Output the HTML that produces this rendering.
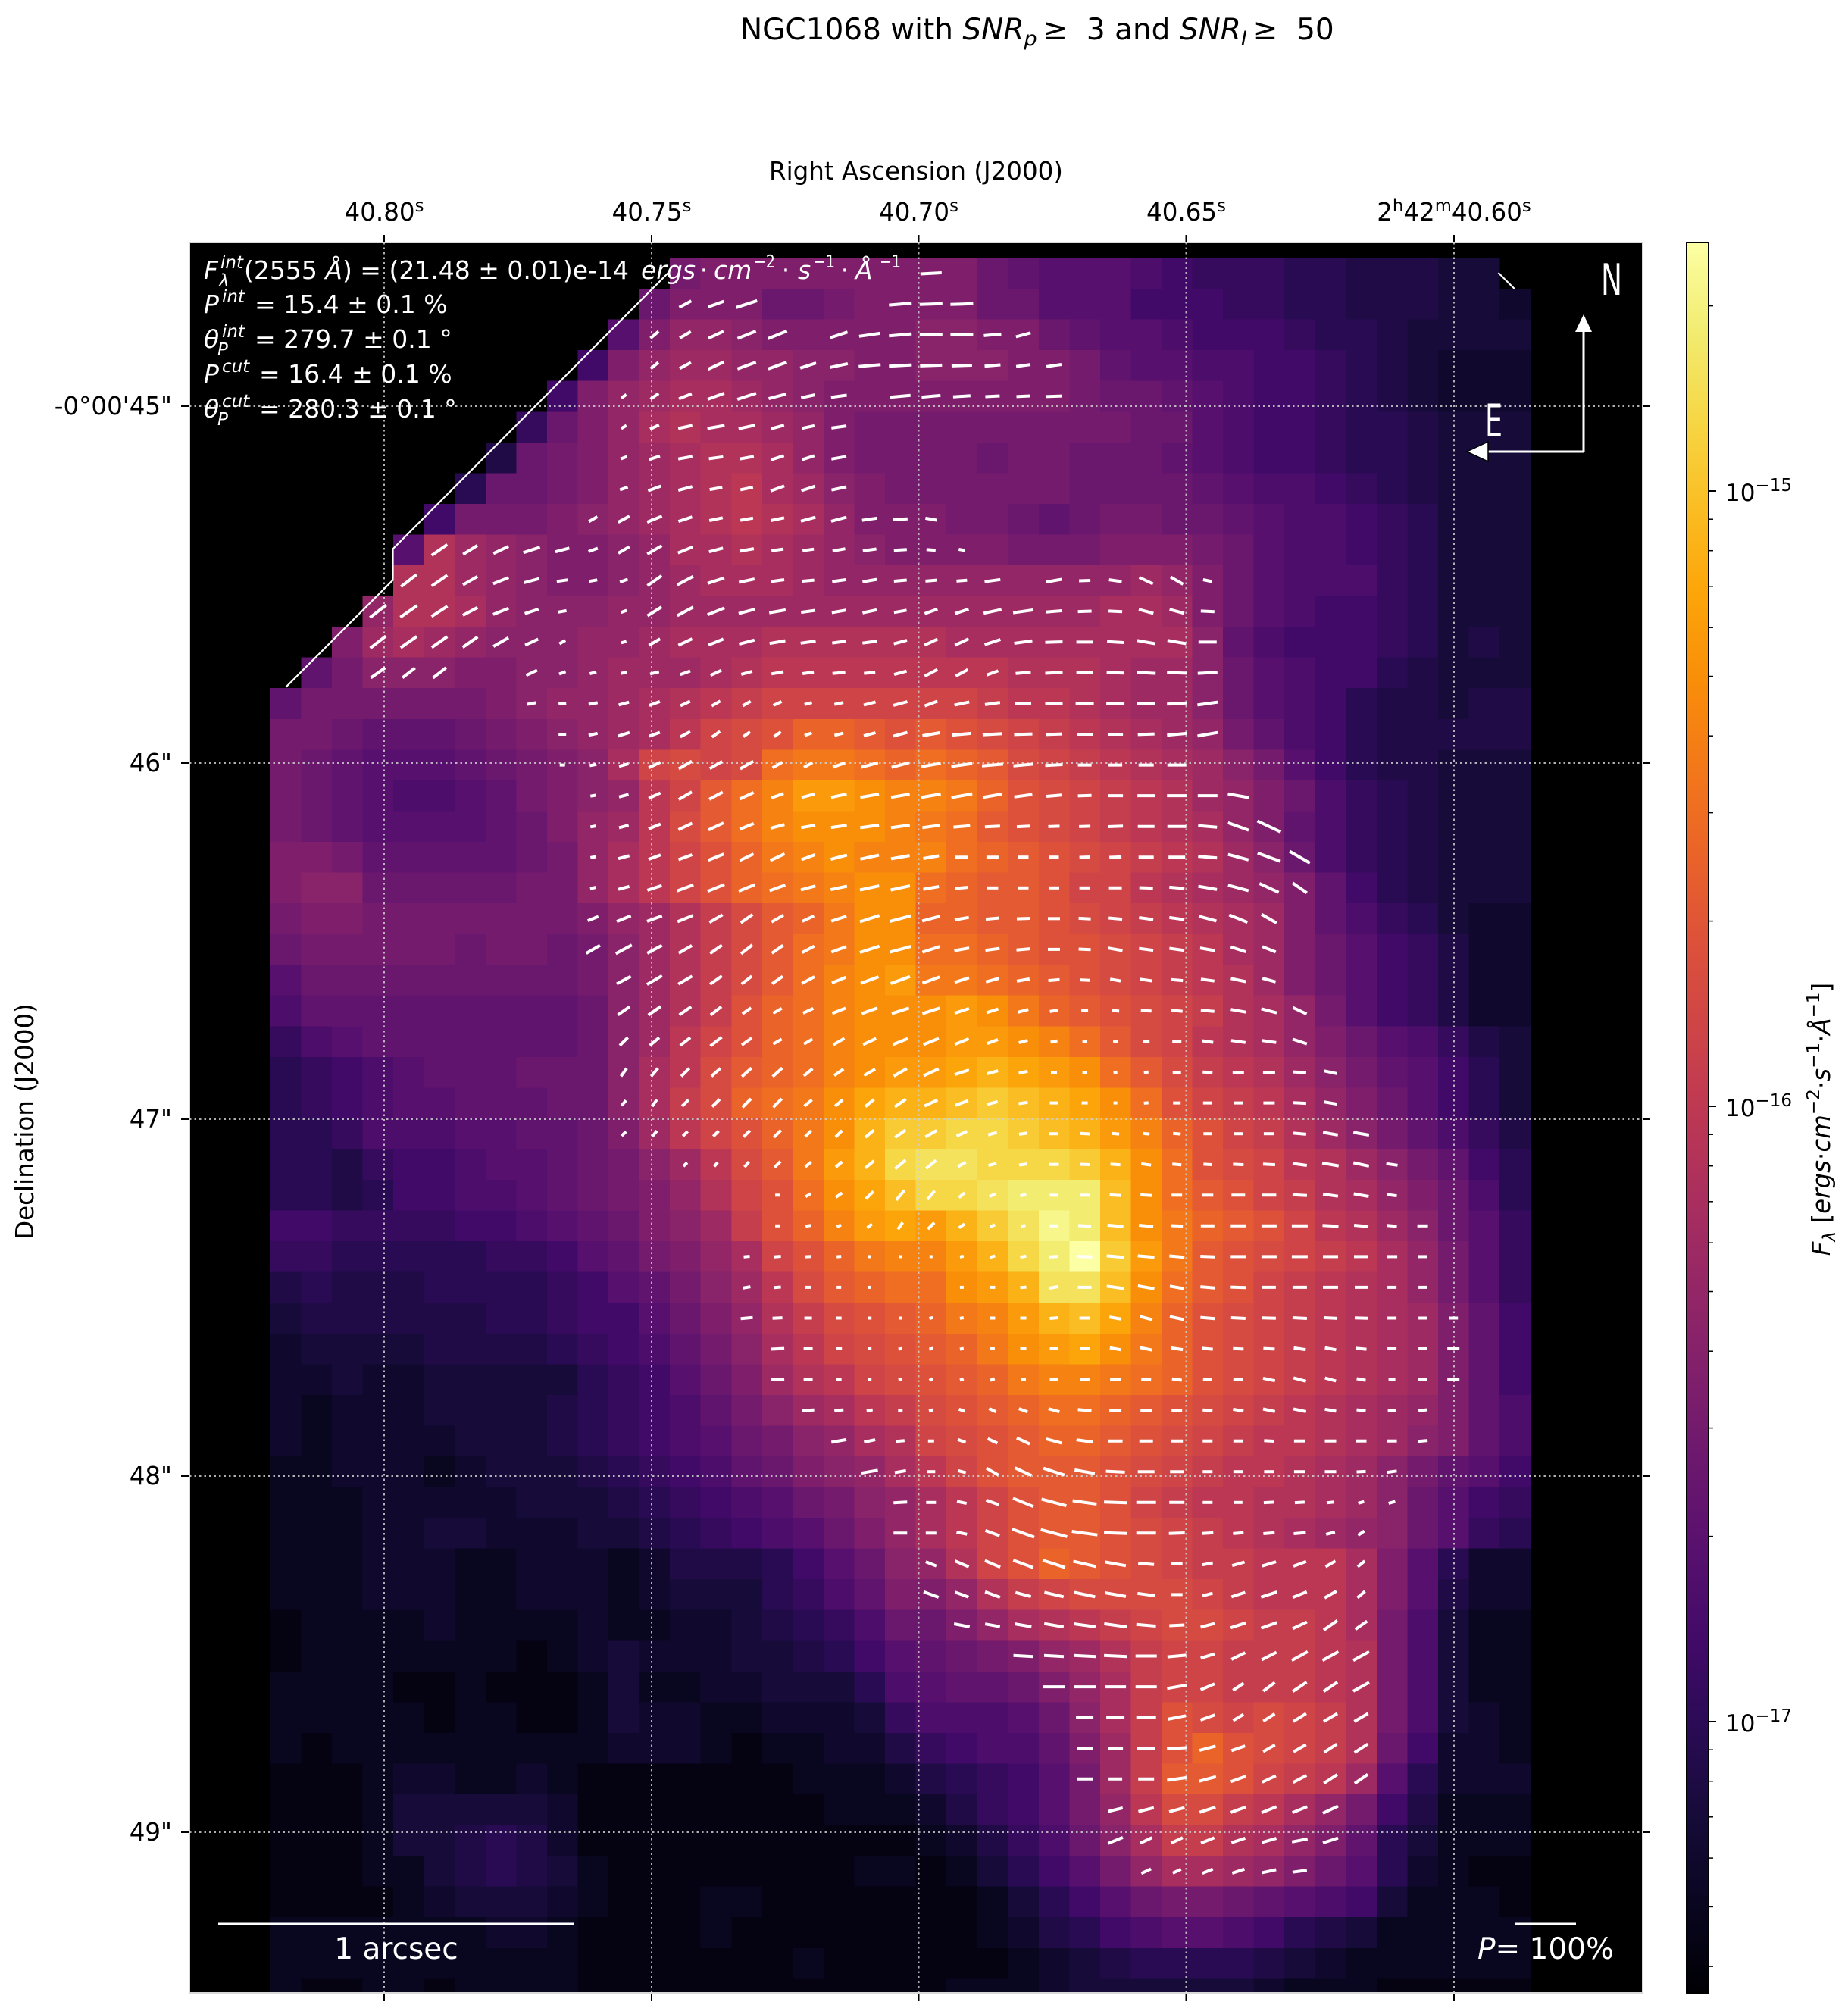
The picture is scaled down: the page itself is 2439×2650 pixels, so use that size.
<!DOCTYPE html>
<html><head><meta charset="utf-8"><style>
html,body{margin:0;padding:0;background:#fff;}
svg{display:block;}
text{font-family:"DejaVu Sans","Liberation Sans",sans-serif;}
</style></head><body>
<svg id="s" xmlns="http://www.w3.org/2000/svg" width="2439" height="2650" viewBox="0 0 2439 2650">
<defs>
<clipPath id="pc"><rect x="250" y="320" width="1918" height="2310"/></clipPath>
<linearGradient id="cb" x1="0" y1="1" x2="0" y2="0">
<stop offset="0" stop-color="rgb(0,0,4)"/><stop offset="0.05" stop-color="rgb(9,6,32)"/><stop offset="0.1" stop-color="rgb(22,11,57)"/><stop offset="0.15" stop-color="rgb(41,11,84)"/><stop offset="0.2" stop-color="rgb(66,10,104)"/><stop offset="0.25" stop-color="rgb(87,16,110)"/><stop offset="0.3" stop-color="rgb(106,23,110)"/><stop offset="0.35" stop-color="rgb(127,31,108)"/><stop offset="0.4" stop-color="rgb(147,38,103)"/><stop offset="0.45" stop-color="rgb(168,46,95)"/><stop offset="0.5" stop-color="rgb(188,55,84)"/><stop offset="0.55" stop-color="rgb(206,68,71)"/><stop offset="0.6" stop-color="rgb(221,81,58)"/><stop offset="0.65" stop-color="rgb(234,99,41)"/><stop offset="0.7" stop-color="rgb(243,120,25)"/><stop offset="0.75" stop-color="rgb(249,142,9)"/><stop offset="0.8" stop-color="rgb(252,165,10)"/><stop offset="0.85" stop-color="rgb(250,190,36)"/><stop offset="0.9" stop-color="rgb(246,215,70)"/><stop offset="0.95" stop-color="rgb(242,236,113)"/><stop offset="1" stop-color="rgb(252,255,164)"/>
</linearGradient>
</defs>
<rect x="0" y="0" width="2439" height="2650" fill="#fff"/>
<!-- title -->
<text x="977" y="52" font-size="39">NGC1068 with <tspan font-style="italic">SNR</tspan><tspan font-style="italic" font-size="27" dy="8">p</tspan><tspan dy="-8">&#8201;≥&#160;&#160;3 and </tspan><tspan font-style="italic">SNR</tspan><tspan font-style="italic" font-size="27" dy="8">I</tspan><tspan dy="-8">&#8201;≥&#160;&#160;50</tspan></text>
<text x="1209" y="237" font-size="32.5" text-anchor="middle">Right Ascension (J2000)</text>
<text transform="translate(44,1480) rotate(-90)" font-size="32.5" text-anchor="middle">Declination (J2000)</text>
<!-- top tick labels -->
<g font-size="32.5" text-anchor="middle">
<text x="507" y="291">40.80<tspan font-size="22.75" dy="-12">s</tspan></text>
<text x="860" y="291">40.75<tspan font-size="22.75" dy="-12">s</tspan></text>
<text x="1212.5" y="291">40.70<tspan font-size="22.75" dy="-12">s</tspan></text>
<text x="1565.5" y="291">40.65<tspan font-size="22.75" dy="-12">s</tspan></text>
<text x="1919" y="291">2<tspan font-size="22.75" dy="-12">h</tspan><tspan dy="12">42</tspan><tspan font-size="22.75" dy="-12">m</tspan><tspan dy="12">40.60</tspan><tspan font-size="22.75" dy="-12">s</tspan></text>
</g>
<g font-size="32.5" text-anchor="end">
<text x="227" y="547">-0°00'45"</text>
<text x="227" y="1018">46"</text>
<text x="227" y="1488">47"</text>
<text x="227" y="1959">48"</text>
<text x="227" y="2429">49"</text>
</g>
<!-- plot -->
<rect x="250" y="320" width="1918" height="2310" fill="#000"/>
<g clip-path="url(#pc)">
<g id="heat" shape-rendering="crispEdges"></g>
<g stroke="#cfcfcf" stroke-opacity="0.85" stroke-width="2" stroke-dasharray="2.5 4" fill="none">
<line x1="507" y1="320" x2="507" y2="2630"/><line x1="860" y1="320" x2="860" y2="2630"/><line x1="1212.5" y1="320" x2="1212.5" y2="2630"/><line x1="1565.5" y1="320" x2="1565.5" y2="2630"/><line x1="1919" y1="320" x2="1919" y2="2630"/>
<line x1="250" y1="536" x2="2168" y2="536"/><line x1="250" y1="1007" x2="2168" y2="1007"/><line x1="250" y1="1477" x2="2168" y2="1477"/><line x1="250" y1="1948" x2="2168" y2="1948"/><line x1="250" y1="2418" x2="2168" y2="2418"/>
</g>
<polyline points="377.4,906.7 518.5,765.5 518.5,724.4 882,360" fill="none" stroke="#fff" stroke-width="2.2"/>
<line x1="1977.5" y1="360" x2="1998.8" y2="381" stroke="#fff" stroke-width="2.2"/>
<g id="vec" stroke="#fff" stroke-width="4" stroke-linecap="butt"></g>
</g>
<!-- text box -->
<g fill="#fff" font-size="33">
<text x="269" y="368" font-style="italic">F</text>
<text x="291" y="354" font-size="23" font-style="italic">int</text>
<text x="289" y="378" font-size="23" font-style="italic">λ</text>
<text x="322" y="368">(2555 <tspan font-style="italic">Å</tspan>) = (21.48 ± 0.01)e-14</text>
<text x="846" y="368" font-style="italic">ergs</text>
<text x="929" y="368" text-anchor="middle">·</text>
<text x="942" y="368" font-style="italic">cm</text>
<text x="995" y="353" font-size="23" textLength="28" lengthAdjust="spacingAndGlyphs">−2</text>
<text x="1037" y="368" text-anchor="middle">·</text>
<text x="1053" y="368" font-style="italic">s</text>
<text x="1074" y="353" font-size="23" textLength="28" lengthAdjust="spacingAndGlyphs">−1</text>
<text x="1115" y="368" text-anchor="middle">·</text>
<text x="1129" y="368" font-style="italic">Å</text>
<text x="1161" y="353" font-size="23" textLength="28" lengthAdjust="spacingAndGlyphs">−1</text>

<text x="269" y="413" font-style="italic">P</text>
<text x="293" y="399" font-size="23" font-style="italic">int</text>
<text x="336" y="413">= 15.4 ± 0.1 %</text>

<text x="269" y="459" font-style="italic">θ</text>
<text x="293" y="445" font-size="23" font-style="italic">int</text>
<text x="287" y="469" font-size="23" font-style="italic">P</text>
<text x="336" y="459">= 279.7 ± 0.1 °</text>

<text x="269" y="505" font-style="italic">P</text>
<text x="293" y="491" font-size="23" font-style="italic">cut</text>
<text x="342" y="505">= 16.4 ± 0.1 %</text>

<text x="269" y="551" font-style="italic">θ</text>
<text x="293" y="537" font-size="23" font-style="italic">cut</text>
<text x="287" y="561" font-size="23" font-style="italic">P</text>
<text x="342" y="551">= 280.3 ± 0.1 °</text>
</g>
<!-- compass -->
<g fill="#fff">
<text x="2113" y="389" font-size="57" textLength="28" lengthAdjust="spacingAndGlyphs">N</text>
<text x="1960" y="576" font-size="60" textLength="23" lengthAdjust="spacingAndGlyphs">E</text>
</g>
<line x1="2090" y1="596" x2="2090" y2="436" stroke="#fff" stroke-width="3"/>
<polygon points="2090,415 2079,438 2101,438" fill="#fff"/>
<line x1="2091" y1="596" x2="1962" y2="596" stroke="#fff" stroke-width="3"/>
<polygon points="1936,596 1964,583 1964,609" fill="#fff" stroke="#000" stroke-width="1.5"/>
<!-- scale bars -->
<line x1="288" y1="2539" x2="758" y2="2539" stroke="#fff" stroke-width="3"/>
<text x="523" y="2585" font-size="39" fill="#fff" text-anchor="middle">1 arcsec</text>
<line x1="1999" y1="2539" x2="2080" y2="2539" stroke="#fff" stroke-width="3"/>
<text x="2040" y="2585" font-size="39" fill="#fff" text-anchor="middle"><tspan font-style="italic">P</tspan>= 100%</text>
<!-- spines -->
<rect x="250" y="320" width="1918" height="2310" fill="none" stroke="#d8d8d8" stroke-width="2"/>
<!-- ticks -->
<g stroke="#000" stroke-width="2">
<line x1="507" y1="310" x2="507" y2="320"/><line x1="860" y1="310" x2="860" y2="320"/><line x1="1212.5" y1="310" x2="1212.5" y2="320"/><line x1="1565.5" y1="310" x2="1565.5" y2="320"/><line x1="1919" y1="310" x2="1919" y2="320"/>
<line x1="507" y1="2631" x2="507" y2="2641"/><line x1="860" y1="2631" x2="860" y2="2641"/><line x1="1212.5" y1="2631" x2="1212.5" y2="2641"/><line x1="1565.5" y1="2631" x2="1565.5" y2="2641"/><line x1="1919" y1="2631" x2="1919" y2="2641"/>
<line x1="239" y1="536" x2="249" y2="536"/><line x1="239" y1="1007" x2="249" y2="1007"/><line x1="239" y1="1477" x2="249" y2="1477"/><line x1="239" y1="1948" x2="249" y2="1948"/><line x1="239" y1="2418" x2="249" y2="2418"/>
<line x1="2169" y1="536" x2="2178" y2="536"/><line x1="2169" y1="1007" x2="2178" y2="1007"/><line x1="2169" y1="1477" x2="2178" y2="1477"/><line x1="2169" y1="1948" x2="2178" y2="1948"/><line x1="2169" y1="2418" x2="2178" y2="2418"/>
</g>
<!-- colorbar -->
<rect x="2226" y="320" width="29" height="2310" fill="url(#cb)" stroke="#000" stroke-width="2"/>
<g stroke="#000" stroke-width="2" id="cbt">
<line x1="2255" y1="648" x2="2265" y2="648"/><line x1="2255" y1="1460" x2="2265" y2="1460"/><line x1="2255" y1="2272" x2="2265" y2="2272"/>
</g>
<g font-size="31">
<text x="2277" y="661">10<tspan font-size="23" dy="-13">−15</tspan></text>
<text x="2277" y="1473">10<tspan font-size="23" dy="-13">−16</tspan></text>
<text x="2277" y="2285">10<tspan font-size="23" dy="-13">−17</tspan></text>
</g>
<text transform="translate(2415,1477) rotate(-90)" font-size="32.5" text-anchor="middle"><tspan font-style="italic">F</tspan><tspan font-style="italic" font-size="23" dy="7">λ</tspan><tspan dy="-7"> [</tspan><tspan font-style="italic">ergs</tspan>·<tspan font-style="italic">cm</tspan><tspan font-size="23" dy="-14">−2</tspan><tspan dy="14">·</tspan><tspan font-style="italic">s</tspan><tspan font-size="23" dy="-14">−1</tspan><tspan dy="14">·</tspan><tspan font-style="italic">Å</tspan><tspan font-size="23" dy="-14">−1</tspan><tspan dy="14">]</tspan></text>
</svg>
<script>
(function(){
var NS="http://www.w3.org/2000/svg";
var A="0123456789abcdefghijklmnopqrstuvwxyzABCDE";
var C=[[0,0,4],[9,6,32],[22,11,57],[41,11,84],[66,10,104],[87,16,110],[106,23,110],[127,31,108],[147,38,103],[168,46,95],[188,55,84],[206,68,71],[221,81,58],[234,99,41],[243,120,25],[249,142,9],[252,165,10],[250,190,36],[246,215,70],[242,236,113],[252,255,164]];
function col(i){var s=i/2,k=Math.floor(s),f=s-k;var a=C[Math.min(k,20)],b=C[Math.min(k+1,20)];
return "rgb("+Math.round(a[0]+(b[0]-a[0])*f)+","+Math.round(a[1]+(b[1]-a[1])*f)+","+Math.round(a[2]+(b[2]-a[2])*f)+")";}
var R=[
"..........|...deeeeee|eeecbaaa98|7776655544|.",
"..........|..ceeeccde|eeeccaaa88|8776655544|3",
"..........|.aeggfeeee|effeecbaa9|8887665444|4",
"..........|8eghhggffe|efffeedbaa|9988765433|3",
".........8|eghiihgfee|eeeeeedccb|a988765433|3",
"........7c|egijiihged|ddddddddcc|a988766544|4",
".......5cd|eghijjiged|dddcddcccb|a988766544|4",
"......6ccd|eghijkihfe|ddddddcccc|ba99876544|4",
".....8ddde|fghijkjige|eeddcbcddc|cba9987644|4",
"....ajhgfe|efgiijihgf|eeeedddeee|dca9987644|4",
"....jjhgfe|efghiiihgg|gggggggghg|eca9997644|4",
"...gjjigff|fgghhhhhhh|hhhhhhhiih|eca9887644|4",
"..ehihgfff|gghiiijjjj|jjiiiiiiii|fb98887645|4",
".bdfffeeff|ghhhijkkkk|kkkkjjjihh|fca9886544|4",
"bddddddefg|ghijklmmmm|mmmlkkjihh|fca9865545|5",
"ddcbbbcdef|ghikmnoqqp|oponmlkjih|gdb9865555|5",
"dcbaaabcde|fimnmnrssr|qrqpnmlkji|hfda865544|4",
"dcba99abde|fgkmprtvvu|ttsqonmlkj|hgec976544|4",
"dcbaaaabce|ghknprtuuu|tsrponmlkj|igeb976544|4",
"eedbbbbbcd|gikmoqstut|ttrqponmlk|jhfc976544|4",
"effcccccdd|gikmoqrstu|urqppommkj|ihgeb86544|4",
"deeddddddd|eghjlnpqsu|uqqpponmlk|jiheb97643|3",
"cdddddcddc|dfhjlnprsu|urrqpoonml|kiheca8753|3",
"accccccccc|dfhjlnprtu|vssrqponml|kjheca8753|3",
"9bbbbbbbbb|cfhjloqrtu|uuvusqponm|ljigda8753|3",
"79abbbbbbb|cfhkmoqrtu|uuvvutrpnm|kjigeca975|4",
"6789abbbcc|cfiknpqrtu|vvwxwvurpn|lkjhfdba86|4",
"6789aabbbc|cfilnqrsuw|xxyzyxwuro|mlkigeca86|4",
"667999aabb|cehkmoqsux|zzAAzyxvtq|omljhfdb97|5",
"6657889aab|cdfhknpsvx|ABBAAAzxur|onmkjhfdb8|6",
"66568899ab|cdegjmoruw|yAABCCCyur|pomljigec9|6",
"887777889a|bcefhloqtv|wvxzBDCyus|qpomkjhfca|7",
"7766666778|abdegimoqs|ttvxACEzvs|ponmlkigda|7",
"5655566667|8abdfhknpq|rruvxBByur|pomlkjigda|7",
"4555555667|88acegjlno|pqstvxywtq|onmlkjiheb|8",
"3444455556|789bdfikmn|opqsuvwusq|onmlkjiheb|8",
"3343344444|678acehjkm|nopqsttsrq|onmlkjiheb|8",
"3233344445|6789bdfhik|lnopqrrqpo|nmlkjihgeb|9",
"3233334445|6789acdfgi|jmnopqqpon|mlkkjihfeb|9",
"2233323444|56789bcefg|ikmoppponm|lkkjihfdba|8",
"2223333344|456789acdf|gikmoppoml|kkjjihfca8|7",
"2223344333|4456789ace|gikmopponm|lkjihgfca7|6",
"2223332233|32355568ac|fgjmoqponm|llkkkiea63|3",
"2223332233|323444679b|eegjlmnnnn|mlkkkiea53|3",
"1222232222|3223345679|ccegijklmn|nmllkid942|2",
"1222222212|3433344568|abcdeghjlm|mlllkjd942|2",
"2222112111|2422334446|9abbcegilm|mlllkjd942|2",
"2222212211|2433223334|7999acfilo|nmnmljd943|2",
"2122222222|2333212233|57899behlo|qonmljc833|2",
"1112332232|1111111222|35678adhlp|pomlkha633|3",
"1112444443|1111111122|23578adgkn|nlkigd8522|2",
"1112445653|1111111111|123579cfil|ljigeb6422|2",
"1112245654|2111111112|212468adgi|ihgeca6321|1",
"1111234443|2111221111|1112468acd|dcba984222|1",
"2222222332|1111211111|111235689a|a986542222|2",
"2222222222|1111111211|1111234566|6654322222|2",
"2112212222|1111111111|1122234444|4432221111|1"
];
var g=document.getElementById("heat");
for(var r=0;r<R.length;r++){var s=R[r].replace(/\|/g,"");
for(var c=0;c<41;c++){var ch=s.charAt(c);if(!ch||ch==".")continue;var i=A.indexOf(ch);if(i<0)continue;
var e=document.createElementNS(NS,"rect");e.setAttribute("x",(357+40.55*c).toFixed(2));e.setAttribute("y",(340.5+40.55*r).toFixed(2));
e.setAttribute("width","41.1");e.setAttribute("height","41.1");e.setAttribute("fill",col(i));g.appendChild(e);}}
var V=[
"21,3,28",
"13,28,18;14,20,22;15,18,29;20,5,30;21,2,30;22,2,30",
"12,40,14;13,30,17;14,25,22;15,22,26;16,22,27;18,18,24;19,8,28;20,5,30;21,0,30;22,0,30;23,5,23;24,15,20",
"12,40,13;13,28,17;14,25,23;15,20,26;16,20,26;17,18,22;18,12,24;19,5,29;20,3,30;21,2,29;22,2,27;23,5,21;24,8,19;25,8,20",
"11,35,8;12,35,13;13,22,18;14,20,23;15,18,26;16,15,24;17,12,19;18,8,21;20,5,27;21,5,25;22,4,23;23,3,19;24,3,18;25,2,22",
"11,30,8;12,25,13;13,12,19;14,10,23;15,12,22;16,15,18;17,12,17;18,8,20",
"11,20,9;12,18,15;13,10,19;14,8,19;15,10,19;16,18,18;17,18,17;18,10,20",
"11,20,11;12,20,18;13,15,19;14,10,17;15,12,17;16,20,19;17,18,19;18,12,20",
"10,30,13;11,28,17;12,22,21;13,18,19;14,12,18;15,10,17;16,12,18;17,15,20;18,15,21;19,8,20;20,3,19;21,-10,15",
"5,35,25;6,32,22;7,25,22;8,18,23;9,15,19;10,20,13;11,30,17;12,30,22;13,22,21;14,15,19;15,10,19;16,8,16;17,8,15;18,10,17;19,8,18;20,3,17;21,-5,12;22,-10,8",
"4,38,26;5,35,25;6,30,22;7,22,22;8,15,21;9,8,15;10,10,11;11,20,11;12,35,23;13,28,24;14,18,23;15,12,21;16,8,18;17,5,16;18,8,18;19,10,19;20,5,17;21,5,15;22,5,14;23,8,21;25,10,21;26,2,15;27,-8,17;28,-25,20;29,-30,19;30,-12,12",
"3,38,27;4,35,27;5,33,25;6,28,22;7,22,22;8,18,19;9,10,11;11,20,8;12,32,22;13,28,24;14,22,24;15,15,22;16,10,22;17,8,19;18,10,19;19,12,19;20,10,17;21,20,18;22,18,19;23,12,24;24,8,27;25,5,22;26,2,18;27,-3,18;28,-15,20;29,-15,20;30,-3,18",
"3,38,26;4,35,26;5,35,25;6,35,24;7,30,23;8,25,19;9,30,9;11,15,7;12,30,17;13,25,20;14,22,21;15,15,21;16,10,21;17,8,20;18,8,18;19,8,19;20,15,18;21,25,19;22,25,20;23,18,22;24,8,24;25,2,23;26,0,22;27,-3,22;28,-10,24;29,-10,25;30,0,24",
"3,35,23;4,38,21;5,38,22;8,25,16;9,20,9;10,15,9;11,10,8;12,15,12;13,20,14;14,25,16;15,15,15;16,10,16;17,8,15;18,5,17;19,5,15;20,15,17;21,28,19;22,28,18;23,20,16;24,5,20;25,3,23;26,0,22;27,-2,23;28,-3,25;29,-2,26;30,3,26",
"8,10,12;9,5,10;10,10,12;11,15,14;12,20,15;13,25,14;14,30,13;15,30,12;16,25,12;17,15,10;18,12,12;19,15,16;20,15,19;21,20,18;22,12,20;23,8,20;24,3,21;25,2,23;26,0,24;27,0,24;28,0,24;29,3,26;30,8,27",
"9,0,10;10,12,12;11,18,16;12,20,15;13,28,15;14,35,13;15,35,11;16,35,11;17,20,10;18,15,12;19,15,16;20,15,19;21,10,23;22,5,25;23,3,26;24,2,24;25,2,22;26,0,21;27,0,20;28,2,22;29,5,26;30,10,27",
"9,0,7;10,10,9;11,15,13;12,25,17;13,30,20;14,30,19;15,30,20;16,30,15;17,30,13;18,20,17;19,15,23;20,15,24;21,10,26;22,8,28;23,5,28;24,5,26;25,3,23;26,0,18;27,0,18;28,0,20;29,0,25",
"10,10,7;11,15,13;12,25,17;13,30,20;14,28,20;15,25,20;16,20,17;17,15,18;18,12,21;19,10,25;20,10,25;21,10,26;22,10,28;23,10,26;24,8,24;25,5,20;26,2,18;27,0,20;28,0,23;29,0,26;30,0,26;31,-10,28",
"10,10,7;11,15,13;12,22,17;13,25,20;14,25,22;15,22,20;16,15,19;17,10,19;18,8,21;19,8,25;20,8,25;21,8,23;22,5,22;23,3,20;24,3,17;25,2,15;26,2,15;27,2,20;28,0,22;29,0,25;30,-5,25;31,-20,29;32,-25,34",
"10,10,7;11,15,15;12,20,17;13,20,19;14,22,22;15,25,20;16,25,21;17,20,19;18,15,22;19,12,25;20,10,25;21,10,21;22,0,17;23,0,16;24,0,14;25,0,13;26,2,14;27,2,16;28,0,20;29,0,22;30,-5,25;31,-15,28;32,-20,32;33,-30,31",
"10,10,8;11,15,15;12,18,20;13,20,23;14,22,24;15,22,23;16,20,22;17,15,20;18,12,22;19,12,26;20,12,26;21,10,21;22,5,17;23,0,15;24,0,14;25,0,14;26,0,14;27,0,17;28,-2,18;29,-5,20;30,-10,25;31,-15,28;32,-25,28;33,-35,23",
"10,22,15;11,22,20;12,20,21;13,22,22;14,30,20;15,35,19;16,30,18;17,25,17;18,18,21;19,18,27;20,15,29;21,15,24;22,10,19;23,5,18;24,2,17;25,0,16;26,-3,16;27,-5,18;28,-8,19;29,-8,20;30,-15,24;31,-22,26;32,-30,23",
"10,30,21;11,28,24;12,28,22;13,30,20;14,35,19;15,38,19;16,35,18;17,28,18;18,20,21;19,18,27;20,15,29;21,18,24;22,10,20;23,8,19;24,5,18;25,0,16;26,-3,16;27,-10,19;28,-8,19;29,-8,20;30,-10,20;31,-18,21;32,-22,19",
"11,28,21;12,30,23;13,30,21;14,35,19;15,38,17;16,35,17;17,28,19;18,22,20;19,20,25;20,20,27;21,20,24;22,18,20;23,15,18;24,10,17;25,5,15;26,-3,13;27,-10,14;28,-8,16;29,-5,16;30,-8,18;31,-12,20;32,-15,18",
"11,35,19;12,35,20;13,35,19;14,38,18;15,35,14;16,30,13;17,25,15;18,22,19;19,20,22;20,18,24;21,18,24;22,18,20;23,18,16;24,15,14;25,10,11;26,0,9;27,-5,10;28,-3,14;29,-5,15;30,-5,18;31,-10,20;32,-15,21;33,-25,20",
"11,45,15;12,40,16;13,38,17;14,38,19;15,35,16;16,30,13;17,30,13;18,30,17;19,25,19;20,22,21;21,22,22;22,22,20;23,20,15;24,15,12;25,10,9;26,0,6;27,0,6;28,0,9;29,-2,12;30,-8,15;31,-8,19;32,-8,19;33,-18,20",
"11,55,13;12,50,14;13,45,15;14,42,16;15,42,17;16,42,17;17,40,15;18,35,15;19,30,17;20,30,20;21,25,22;22,18,20;23,15,15;24,12,12;25,0,8;26,0,6;27,5,5;28,5,6;29,0,11;30,-3,13;31,0,15;32,0,16;33,-3,17;34,-12,17",
"11,50,9;12,55,11;13,45,12;14,45,14;15,45,16;16,45,16;17,40,13;18,40,13;19,40,15;20,35,18;21,25,19;22,20,18;23,15,14;24,8,12;25,0,11;26,0,8;27,0,5;28,5,6;29,0,10;30,0,12;31,0,12;32,0,15;33,-3,17;34,-10,18",
"11,45,8;12,50,10;13,45,9;14,45,10;15,45,12;16,45,13;17,45,11;18,45,12;19,40,15;20,35,17;21,30,17;22,25,15;23,15,12;24,8,11;25,0,12;26,-3,13;27,-5,10;28,-5,9;29,-5,10;30,0,11;31,0,12;32,0,14;33,-5,17;34,-10,20;35,-10,21",
"13,45,7;14,50,7;15,50,9;16,45,11;17,40,10;18,40,11;19,40,15;20,40,18;21,40,17;22,30,12;23,15,11;24,8,11;25,0,13;26,-2,13;27,-5,13;28,-8,13;29,-5,12;30,-3,11;31,-3,14;32,-3,16;33,-8,19;34,-10,22;35,-12,21;36,-8,15",
"16,0,6;17,30,8;18,35,10;19,45,14;20,50,17;21,50,15;22,40,10;23,25,9;24,10,8;25,0,11;26,0,13;27,-3,15;28,-3,15;29,0,14;30,0,15;31,0,18;32,0,19;33,-3,19;34,-8,20;35,-10,20;36,-8,13",
"16,0,6;17,10,7;18,20,6;19,40,8;20,55,11;21,45,12;22,35,9;23,25,7;24,10,6;25,0,11;26,-3,17;27,-5,21;28,-5,19;29,-2,16;30,0,18;31,0,20;32,0,20;33,0,21;34,-3,21;35,-5,19;36,-5,13;37,0,14",
"15,5,8;16,5,9;17,3,8;18,5,6;19,0,4;20,0,4;21,0,4;22,10,5;23,15,7;24,10,8;25,3,12;26,-2,20;27,-5,23;28,-5,22;29,-5,20;30,-2,19;31,0,20;32,0,20;33,0,21;34,0,20;35,0,19;36,0,14;37,0,12",
"15,10,10;16,5,9;17,0,8;18,0,6;19,0,4;22,0,5;23,0,7;24,5,8;25,10,12;26,0,18;27,-8,23;28,-10,22;29,-10,19;30,-5,19;31,-2,20;32,0,18;33,0,19;34,0,20;35,0,17;36,0,12;37,0,11",
"15,5,16;16,3,13;17,0,10;18,0,7;19,0,5;20,0,4;21,20,5;22,10,5;23,0,7;24,0,8;25,5,11;26,0,14;27,-10,16;28,-15,17;29,-12,19;30,-5,19;31,-3,19;32,-2,18;33,-3,19;34,-3,18;35,-2,17;36,0,12;37,0,11;38,0,12",
"16,3,18;17,0,12;18,0,8;19,0,5;20,10,5;21,10,5;22,10,5;23,0,6;24,0,8;25,0,11;26,0,13;27,-10,15;28,-12,16;29,-8,16;30,-5,14;31,-3,14;32,-3,15;33,-8,16;34,-10,15;35,-5,14;36,0,12;37,0,11;38,0,16",
"16,3,18;17,0,12;18,0,7;19,0,5;20,10,5;21,30,5;22,20,5;23,20,6;24,0,7;25,0,11;26,0,13;27,-3,14;28,-5,13;29,-8,13;30,-5,12;31,-5,13;32,-12,16;33,-15,17;34,-15,15;35,-10,12;36,0,9;37,0,12;38,0,16",
"17,3,16;18,5,12;19,5,8;20,0,6;21,10,6;22,-20,8;23,-25,10;24,-20,12;25,-15,15;26,-5,18;27,0,16;28,0,15;29,0,14;30,-3,13;31,-10,14;32,-12,16;33,-12,17;34,-10,15;35,-5,12;36,0,11;37,5,11",
"18,10,20;19,12,15;20,5,11;21,0,8;22,-20,11;23,-25,14;24,-25,19;25,-15,21;26,-8,22;27,0,19;28,0,18;29,0,16;30,0,13;31,0,13;32,-3,13;33,0,15;34,0,15;35,0,14;36,0,13;37,5,13",
"19,10,22;20,10,15;21,0,11;22,-15,11;23,-30,18;24,-25,24;25,-18,29;26,-10,27;27,-3,25;28,0,22;29,0,18;30,0,13;31,0,13;32,0,13;33,0,15;34,0,15;35,3,12;36,8,13",
"20,3,18;21,0,13;22,-12,13;23,-20,18;24,-22,29;25,-15,34;26,-8,32;27,-2,30;28,0,26;29,0,20;30,0,13;31,0,11;32,3,14;33,3,13;34,5,10;35,15,8;36,15,9",
"20,0,18;21,0,14;22,-12,14;23,-20,20;24,-20,31;25,-15,36;26,-8,34;27,-2,30;28,0,26;29,2,21;30,3,15;31,5,14;32,5,15;33,5,16;34,15,12;35,35,10",
"21,-22,15;22,-23,20;23,-23,22;24,-20,28;25,-18,31;26,-13,31;27,-10,28;28,-5,21;29,0,15;30,11,14;31,16,17;32,17,19;33,20,18;34,30,15;35,39,12",
"21,-20,21;22,-20,19;23,-20,21;24,-15,21;25,-13,26;26,-12,28;27,-10,28;28,-8,23;29,0,15;30,15,14;31,18,19;32,18,22;33,22,20;34,30,18;35,40,13",
"22,-11,21;23,-10,20;24,-10,22;25,-10,26;26,-8,29;27,-8,30;28,-5,26;29,3,20;30,15,19;31,18,21;32,20,22;33,25,21;34,35,22;35,35,19",
"24,-3,26;25,-3,26;26,-3,29;27,-3,30;28,0,28;29,5,25;30,17,19;31,26,20;32,27,22;33,29,24;34,29,24;35,29,24",
"25,0,28;26,0,29;27,0,28;28,0,28;29,10,26;30,23,20;31,34,17;32,37,19;33,34,22;34,34,22;35,29,24",
"26,0,23;27,0,24;28,0,26;29,11,24;30,20,20;31,31,16;32,33,18;33,32,20;34,30,21;35,30,21",
"26,0,21;27,0,20;28,0,24;29,3,26;30,15,22;31,19,19;32,30,18;33,30,19;34,33,20;35,33,21",
"26,0,21;27,0,18;28,0,21;29,8,26;30,15,23;31,20,21;32,25,20;33,28,20;34,33,21;35,35,21",
"27,14,20;28,14,21;29,15,21;30,18,22;31,20,21;32,22,21;33,22,21;34,25,22",
"27,22,21;28,25,17;29,25,17;30,22,19;31,18,19;32,16,20;33,11,21;34,18,21",
"28,25,14;29,25,12;30,22,15;31,18,17;32,12,19;33,8,19"
];
var vg=document.getElementById("vec");
for(var r2=0;r2<V.length;r2++){if(!V[r2])continue;var items=V[r2].split(";");
for(var k=0;k<items.length;k++){var p=items[k].split(",");var cc=+p[0],a=+p[1],l=+p[2];
var cx=357+40.55*(cc+0.5),cy=340.5+40.55*(r2+0.5),rad=a*Math.PI/180,dx=l/2*Math.cos(rad),dy=-l/2*Math.sin(rad);
var ln=document.createElementNS(NS,"line");ln.setAttribute("x1",(cx-dx).toFixed(1));ln.setAttribute("y1",(cy-dy).toFixed(1));
ln.setAttribute("x2",(cx+dx).toFixed(1));ln.setAttribute("y2",(cy+dy).toFixed(1));vg.appendChild(ln);}}
var mt=[403.6,1215.6,1072.6,971.2,892.5,828.2,773.8,726.7,685.2,2027.6,1884.6,1783.2,1704.5,1640.2,1585.8,1538.7,1497.2,2309.2,2350.7,2397.8,2452.1,2516.4,2595.1];
var tg=document.getElementById("cbt");
for(var m=0;m<mt.length;m++){var t=document.createElementNS(NS,"line");t.setAttribute("x1","2255");t.setAttribute("x2","2261");t.setAttribute("y1",mt[m]);t.setAttribute("y2",mt[m]);t.setAttribute("stroke-width","1.5");tg.appendChild(t);}
})();
</script>
</body></html>
